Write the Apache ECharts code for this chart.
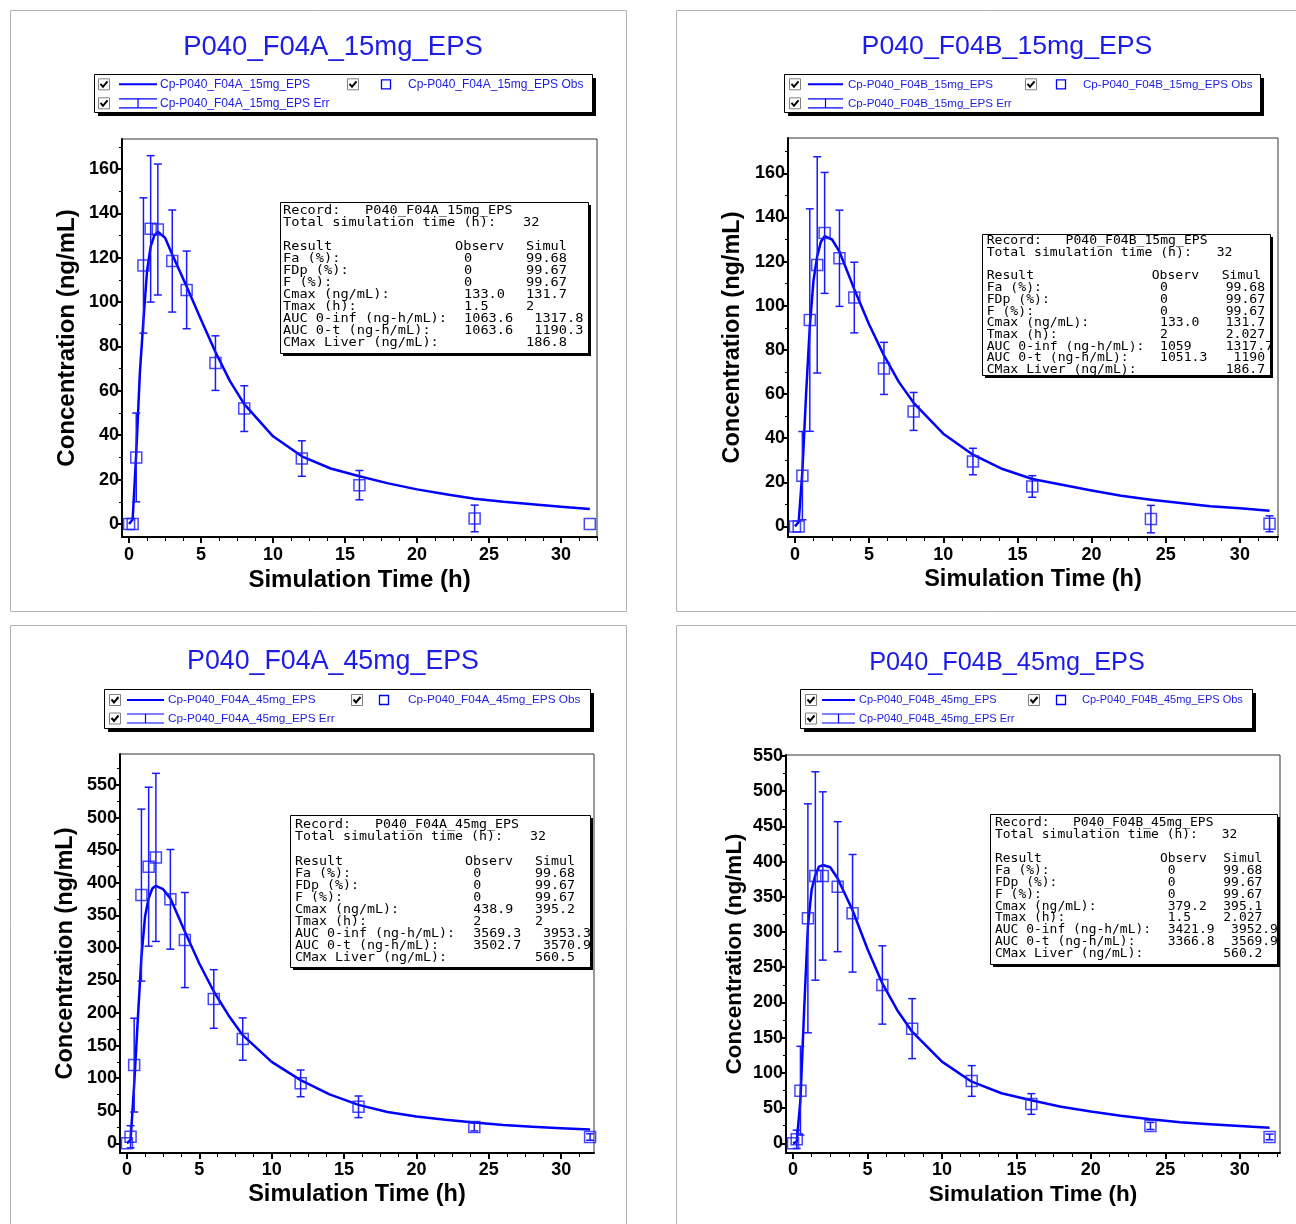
<!DOCTYPE html>
<html>
<head>
<meta charset="utf-8">
<title>P040 EPS profiles</title>
<script src="https://cdn.jsdelivr.net/npm/echarts@6.0.0/dist/echarts.min.js"></script>
<style>
  html, body { margin: 0; padding: 0; background: #fff; }
  #main { width: 1296px; height: 1224px; }
</style>
</head>
<body>
<div id="main"></div>
<script>
// sampling times (h)
var obsTime = [0, 0.25, 0.5, 1, 1.5, 2, 3, 4, 6, 8, 12, 16, 24, 32];
var simTime = [0, 0.25, 0.5, 0.75, 1, 1.25, 1.5, 1.75, 2, 2.5, 3, 4, 5, 6, 7, 8, 10, 12, 14, 16, 18, 20, 22, 24, 26, 28, 30, 32];

var xTicks = [0, 5, 10, 15, 20, 25, 30];
var yTicks15 = [0, 20, 40, 60, 80, 100, 120, 140, 160];
var yTicks45 = [0, 50, 100, 150, 200, 250, 300, 350, 400, 450, 500, 550];

// F04A 15mg
var a15Obs = [0, 0, 30, 116.5, 133, 132.7, 118.5, 105.5, 72.5, 52, 29.5, 17.5, 2.5, 0];
var a15Err = [0, 0, 20, 30.5, 33, 29.5, 23, 17.5, 12.3, 10.3, 8, 6.6, 6, 0];
var a15Sim = [0, 2, 32, 68, 92, 114, 125, 130, 131.7, 129, 121.5, 107, 92, 77.5, 64.5, 54, 39.5, 30.5, 25, 21.5, 18.3, 15.6, 13.4, 11.4, 10, 8.9, 7.8, 6.8];

// F04B 15mg
var b15Obs = [0, 0, 23, 93.5, 118.5, 133, 121.5, 103.7, 71.6, 52.1, 29.4, 18.1, 3.3, 1.2];
var b15Err = [0, 0, 20, 50.4, 49, 27.4, 21.8, 16, 11.8, 8.6, 6, 4.9, 6.2, 3.6];
var b15Sim = [0, 2, 25, 60, 90.5, 111.5, 122.5, 129, 131.5, 130, 124.5, 107.5, 91.5, 77.5, 65.5, 56, 42, 32.5, 26, 21.5, 18.9, 16.3, 13.9, 12.1, 10.6, 9.1, 8.2, 7.1];

// F04A 45mg
var a45Obs = [0, 10, 120, 381, 424.6, 438.9, 374.5, 312, 221.5, 160, 92, 56, 25, 9.7];
var a45Err = [0, 17, 72, 132, 122, 129, 76.5, 73, 45, 32.5, 20.5, 16.6, 6, 5];
var a45Sim = [0, 5, 90, 190, 286, 348, 376, 391, 395.2, 390, 376, 325, 276, 233, 197, 166, 125, 97, 75, 59, 48, 41, 36, 32, 28, 25.5, 23, 21];

// F04B 45mg
var b45Obs = [0, 5.7, 74.7, 319.5, 379.6, 379.6, 364.4, 326.6, 224.8, 162.8, 88.5, 55.8, 24.6, 9];
var b45Err = [0, 13, 63, 162.6, 148, 119.5, 92.3, 83.5, 55.6, 42.6, 21.8, 14.7, 5, 4];
var b45Sim = [0, 2, 62, 190, 308, 360, 381, 393, 395.1, 392, 376, 331, 276, 227, 189, 158.5, 116, 87.5, 71, 61, 52, 45, 39, 34, 30, 27, 24.5, 22];

// result tables
var statLabels = ['Fa (%):', 'FDp (%):', 'F (%):', 'Cmax (ng/mL):', 'Tmax (h):', 'AUC 0-inf (ng-h/mL):', 'AUC 0-t (ng-h/mL):', 'CMax Liver (ng/mL):'];
var a15StatObs = ['0', '0', '0', '133.0', '1.5', '1063.6', '1063.6', ''];
var a15StatSim = ['99.68', '99.67', '99.67', '131.7', '2', ' 1317.8', ' 1190.3', '186.8'];
var b15StatObs = ['0', '0', '0', '133.0', '2', '1059', '1051.3', ''];
var b15StatSim = ['99.68', '99.67', '99.67', '131.7', '2.027', '1317.7', ' 1190', '186.7'];
var a45StatObs = ['0', '0', '0', '438.9', '2', '3569.3', '3502.7', ''];
var a45StatSim = ['99.68', '99.67', '99.67', '395.2', '2', ' 3953.3', ' 3570.9', '560.5'];
var b45StatObs = ['0', '0', '0', '379.2', '1.5', '3421.9', '3366.8', ''];
var b45StatSim = ['99.68', '99.67', '99.67', '395.1', '2.027', ' 3952.9', ' 3569.9', '560.2'];

var BLUE = '#0000ff';
var TBLUE = '#1c1ce6';
var SANS = '"Liberation Sans", Arial, sans-serif';
var MONO = '"DejaVu Sans Mono", monospace';

// box.col: [Observ header, obs values, Simul header, sim values, "32"] offsets from text left
var panels = [
  { name: 'P040_F04A_15mg_EPS', title: [333, 47, 27.5],
    grid: [122, 139, 475, 398], x: [-0.49, 32.5], y: [-5.86, 173.5], yTicks: yTicks15, yStep: 20,
    obs: a15Obs, err: a15Err, sim: a15Sim, sObs: a15StatObs, sSim: a15StatSim,
    nameFs: 24, xGap: 31, yGap: 43, labGap: 9,
    leg: { x: 94, y: 74, w: 498, h: 38, r1: 84.3, r2: 103.3, cb1: 98, l0: 119, l1: 157, t1: 160, cb2: 347, sq: 386, t2: 408, fs: 12 },
    box: { x: 280, y: 202, w: 308, h: 151, tx: 283, ty: 211.3, lh: 12.0, fs: 12, sx: 1.135, col: [172, 181, 243, 243, 240] } },
  { name: 'P040_F04B_15mg_EPS', title: [1007, 47, 26.7],
    grid: [788, 138, 490, 399], x: [-0.47, 32.57], y: [-4.8, 176], yTicks: yTicks15, yStep: 20,
    obs: b15Obs, err: b15Err, sim: b15Sim, sObs: b15StatObs, sSim: b15StatSim,
    nameFs: 23.5, xGap: 31, yGap: 43, labGap: 9,
    leg: { x: 784, y: 74, w: 476, h: 38, r1: 84.3, r2: 103.3, cb1: 789, l0: 808, l1: 843, t1: 848, cb2: 1025, sq: 1061, t2: 1083, fs: 11.6 },
    box: { x: 982, y: 234, w: 288, h: 141, tx: 986.7, ty: 241.3, lh: 11.7, fs: 11.6, sx: 1.13, col: [165, 173.3, 235, 239, 230] } },
  { name: 'P040_F04A_45mg_EPS', title: [333, 662, 26.8],
    grid: [120, 754, 474, 399], x: [-0.48, 32.27], y: [-14.9, 597.6], yTicks: yTicks45, yStep: 50,
    obs: a45Obs, err: a45Err, sim: a45Sim, sObs: a45StatObs, sSim: a45StatSim,
    nameFs: 23.5, xGap: 30, yGap: 42, labGap: 8,
    leg: { x: 104, y: 689, w: 486, h: 39, r1: 700, r2: 718.5, cb1: 109, l0: 127, l1: 164, t1: 168, cb2: 351, sq: 384, t2: 408, fs: 11.8 },
    box: { x: 290, y: 815, w: 300, h: 152, tx: 295, ty: 825.3, lh: 12.1, fs: 11.8, sx: 1.126, col: [170, 178.3, 240, 240, 235] } },
  { name: 'P040_F04B_45mg_EPS', title: [1007, 663, 25.3],
    grid: [786, 755, 494, 398], x: [-0.47, 32.7], y: [-13.8, 551.4], yTicks: yTicks45, yStep: 50,
    obs: b45Obs, err: b45Err, sim: b45Sim, sObs: b45StatObs, sSim: b45StatSim,
    nameFs: 22.5, xGap: 30, yGap: 40, labGap: 8,
    leg: { x: 800, y: 689, w: 452, h: 39, r1: 700, r2: 718.5, cb1: 805, l0: 822, l1: 855, t1: 859, cb2: 1028, sq: 1061, t2: 1082, fs: 11 },
    box: { x: 990, y: 814, w: 287, h: 150, tx: 995, ty: 823.3, lh: 11.9, fs: 11.5, sx: 1.127, col: [165, 172.7, 228.3, 228.3, 226.7] } }
];

function minorList(lo, hi, step, skipEvery) {
  var out = [];
  for (var k = Math.ceil(lo / step); k * step <= hi; k++) {
    if (k % skipEvery !== 0) out.push(k * step);
  }
  return out;
}

function renderErr(params, api) {
  var x = api.value(0), lo = api.value(1), hi = api.value(2);
  if (hi === lo) return null;
  var top = api.coord([x, hi]), bot = api.coord([x, lo]);
  var w = 4;
  function seg(x1, y1, x2, y2) {
    return { type: 'line', shape: { x1: x1, y1: y1, x2: x2, y2: y2 }, style: { stroke: '#1a1aff', lineWidth: 1.5 } };
  }
  return { type: 'group', children: [
    seg(top[0], top[1], bot[0], bot[1]),
    seg(top[0] - w, top[1], top[0] + w, top[1]),
    seg(bot[0] - w, bot[1], bot[0] + w, bot[1])
  ] };
}

var option = { animation: false, backgroundColor: '#fff', grid: [], xAxis: [], yAxis: [], series: [], graphic: [] };
var G = option.graphic;

function rect(x, y, w, h, fill, stroke, lw) {
  G.push({ type: 'rect', z: 100, shape: { x: x, y: y, width: w, height: h }, style: { fill: fill, stroke: stroke, lineWidth: lw || 1 } });
}
function seg(x1, y1, x2, y2, color, lw) {
  G.push({ type: 'line', z: 101, shape: { x1: x1, y1: y1, x2: x2, y2: y2 }, style: { stroke: color, lineWidth: lw } });
}
function text(x, y, str, font, color, align) {
  G.push({ type: 'text', z: 101, style: { x: x, y: y, text: str, font: font, fill: color, textAlign: align || 'left', textVerticalAlign: 'middle' } });
}
// monospace text stretched horizontally to match the wide console font
function mono(x, y, str, size, sx) {
  G.push({ type: 'text', z: 101, x: x, y: y, scaleX: sx, scaleY: 1,
    style: { x: 0, y: 0, text: str, font: size + 'px ' + MONO, fill: '#000', textAlign: 'left', textVerticalAlign: 'middle' } });
}
function checkbox(x, cy) {
  rect(x + 0.5, cy - 5.5, 11, 11, '#fff', '#808080', 1);
  G.push({ type: 'polyline', z: 102, shape: { points: [[x + 2.5, cy - 0.5], [x + 5, cy + 2.5], [x + 9.5, cy - 3]] }, style: { stroke: '#000', lineWidth: 2, fill: null } });
}

// panel frames
rect(10.5, 10.5, 616, 601, null, '#b4b4b4', 1);
rect(676.5, 10.5, 625, 601, null, '#b4b4b4', 1);
rect(10.5, 625.5, 616, 610, null, '#b4b4b4', 1);
rect(676.5, 625.5, 625, 610, null, '#b4b4b4', 1);

panels.forEach(function (p, i) {
  option.grid.push({ left: p.grid[0], top: p.grid[1], width: p.grid[2], height: p.grid[3],
    show: true, borderColor: '#333', borderWidth: 1, backgroundColor: 'transparent' });

  var xMinor = minorList(p.x[0], p.x[1], 1.25, 4);
  var yMinor = minorList(p.y[0], p.y[1], p.yStep / 2, 2);
  var nameStyle = { fontSize: p.nameFs, fontWeight: 'bold', color: '#000', fontFamily: SANS };
  var labStyle = { color: '#000', fontSize: 18, fontWeight: 'bold', fontFamily: SANS };

  option.xAxis.push({
    type: 'value', gridIndex: i, position: 'bottom', min: p.x[0], max: p.x[1],
    name: 'Simulation Time (h)', nameLocation: 'middle', nameGap: p.xGap, nameTextStyle: nameStyle,
    axisLine: { onZero: false, lineStyle: { color: '#000', width: 2 } },
    axisTick: { customValues: xTicks, length: 6, lineStyle: { color: '#000', width: 2 } },
    axisLabel: Object.assign({ customValues: xTicks, margin: p.labGap }, labStyle),
    splitLine: { show: false }
  }, {
    type: 'value', gridIndex: i, position: 'bottom', min: p.x[0], max: p.x[1],
    axisLine: { show: false, onZero: false }, axisLabel: { show: false },
    axisTick: { customValues: xMinor, length: 4, lineStyle: { color: '#000', width: 1 } },
    splitLine: { show: false }
  });
  option.yAxis.push({
    type: 'value', gridIndex: i, position: 'left', min: p.y[0], max: p.y[1],
    name: 'Concentration (ng/mL)', nameLocation: 'middle', nameGap: p.yGap, nameTextStyle: nameStyle,
    axisLine: { onZero: false, lineStyle: { color: '#000', width: 2 } },
    axisTick: { customValues: p.yTicks, length: 6, lineStyle: { color: '#000', width: 2 } },
    axisLabel: Object.assign({ customValues: p.yTicks, margin: 3 }, labStyle),
    splitLine: { show: false }
  }, {
    type: 'value', gridIndex: i, position: 'left', min: p.y[0], max: p.y[1],
    axisLine: { show: false, onZero: false }, axisLabel: { show: false },
    axisTick: { customValues: yMinor, length: 3, lineStyle: { color: '#000', width: 1 } },
    splitLine: { show: false }
  });

  var xi = 2 * i, yi = 2 * i;
  option.series.push({
    type: 'line', xAxisIndex: xi, yAxisIndex: yi, z: 3,
    data: simTime.map(function (t, k) { return [t, p.sim[k]]; }),
    showSymbol: false, smooth: false,
    lineStyle: { color: BLUE, width: 2.5, join: 'round' }
  }, {
    type: 'custom', xAxisIndex: xi, yAxisIndex: yi, z: 4,
    data: obsTime.map(function (t, k) { return [t, p.obs[k] - p.err[k], p.obs[k] + p.err[k]]; }),
    encode: { x: 0, y: [1, 2] }, renderItem: renderErr
  }, {
    type: 'scatter', xAxisIndex: xi, yAxisIndex: yi, z: 5,
    data: obsTime.map(function (t, k) { return [t, p.obs[k]]; }),
    symbol: 'rect', symbolSize: 11,
    itemStyle: { color: 'rgba(255,255,255,0)', borderColor: '#1a1aff', borderWidth: 1.5 }
  });

  // title
  text(p.title[0], p.title[1], p.name, p.title[2] + 'px ' + SANS, TBLUE, 'center');

  // legend box
  var L = p.leg;
  var lf = L.fs + 'px ' + SANS;
  rect(L.x + 4, L.y + 4, L.w, L.h, '#000', null);
  rect(L.x + 0.5, L.y + 0.5, L.w, L.h, '#fff', '#000', 1);
  checkbox(L.cb1, L.r1);
  checkbox(L.cb2, L.r1);
  checkbox(L.cb1, L.r2);
  seg(L.l0, L.r1, L.l1, L.r1, BLUE, 2);
  var mid = (L.l0 + L.l1) / 2;
  seg(L.l0, L.r2 - 4.5, L.l1, L.r2 - 4.5, BLUE, 1.2);
  seg(L.l0, L.r2 + 4.5, L.l1, L.r2 + 4.5, BLUE, 1.2);
  seg(mid, L.r2 - 4.5, mid, L.r2 + 4.5, BLUE, 1.2);
  rect(L.sq - 4.5, L.r1 - 4.5, 9, 9, null, BLUE, 1.3);
  text(L.t1, L.r1, 'Cp-' + p.name, lf, TBLUE);
  text(L.t2, L.r1, 'Cp-' + p.name + ' Obs', lf, TBLUE);
  text(L.t1, L.r2, 'Cp-' + p.name + ' Err', lf, TBLUE);

  // results box
  var B = p.box, C = B.col;
  rect(B.x + 3, B.y + 3, B.w, B.h, '#000', null);
  rect(B.x + 0.5, B.y + 0.5, B.w, B.h, '#fff', '#000', 1);
  function row(k) { return B.ty + k * B.lh; }
  mono(B.tx, row(0), 'Record:   ' + p.name, B.fs, B.sx);
  mono(B.tx, row(1), 'Total simulation time (h):', B.fs, B.sx);
  mono(B.tx + C[4], row(1), '32', B.fs, B.sx);
  mono(B.tx, row(3), 'Result', B.fs, B.sx);
  mono(B.tx + C[0], row(3), 'Observ', B.fs, B.sx);
  mono(B.tx + C[2], row(3), 'Simul', B.fs, B.sx);
  statLabels.forEach(function (lab, k) {
    mono(B.tx, row(4 + k), lab, B.fs, B.sx);
    if (p.sObs[k]) mono(B.tx + C[1], row(4 + k), p.sObs[k], B.fs, B.sx);
    mono(B.tx + C[3], row(4 + k), p.sSim[k], B.fs, B.sx);
  });
});

var chart = echarts.init(document.getElementById('main'));
chart.setOption(option);
</script>
</body>
</html>
